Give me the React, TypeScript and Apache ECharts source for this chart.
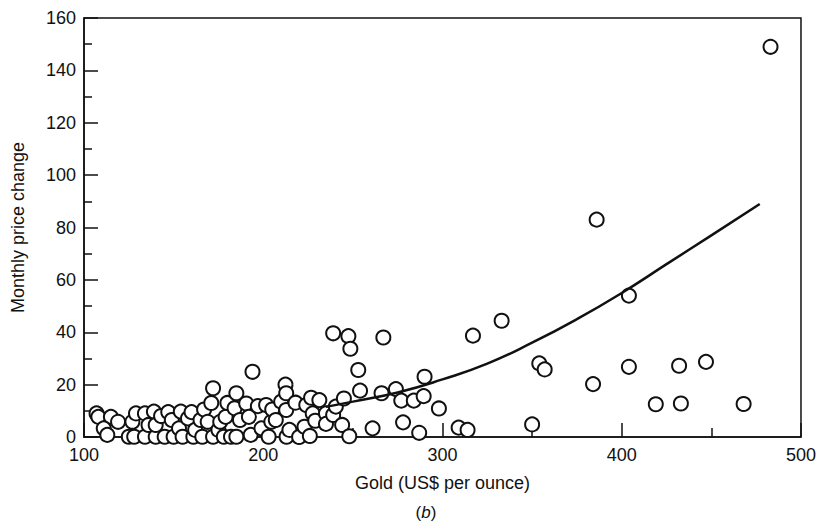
import React, { useEffect, useRef } from "react";
import * as echarts from "echarts";

// Scatter observations: gold price (US$/oz) vs monthly price change
const goldPrice: number[] = [
  107, 108, 115, 119, 111, 113, 125, 127, 128, 129, 134, 134, 136, 139, 140, 140, 143, 145, 147, 149, 150,
  153, 154, 155, 158, 160, 161, 162, 165, 166, 167, 169, 171, 172, 172, 175, 176, 178, 179, 180, 182,
  184, 185, 185, 187, 190.5, 192, 193, 194, 197, 199, 201.6, 203, 204.5, 205, 207, 210, 212.4, 212.8, 212.8,
  213, 214.6, 218, 220, 223, 224, 226, 226.7, 227.6, 229, 231.3, 235, 235, 239, 240.5, 244, 245, 248,
  239, 247.5, 248.6,
  253, 254, 261, 266, 267, 274, 277, 278, 284, 287, 289.5, 290, 298, 309, 314, 317, 333, 350, 354, 357,
  384, 386, 404, 404, 419, 432, 433, 447, 468, 483,
];
const priceChange: number[] = [
  9, 7.7, 7.7, 5.8, 3.3, 0.8, 0.1, 5.8, 0.1, 9, 9, 0.1, 4.6, 9.7, 0.1, 4.6, 8, 0.1, 9.5, 6.5, 0.1,
  3.3, 9.7, 0.1, 7.1, 9.5, 0.1, 2.7, 6.5, 0.1, 10.5, 5.8, 13, 18.6, 0.1, 2.7, 5.8, 0.1, 7.7, 13, 0.1,
  11, 16.7, 0.1, 6.5, 12.8, 7.7, 0.8, 24.9, 11.8, 3.3, 12.2, 0.1, 5.8, 10.5, 6.5, 13.5, 20, 16.7, 10.3,
  0.1, 2.7, 13.1, 0, 3.9, 12.2, 0.4, 15, 9, 6.2, 14.1, 9, 5, 8.4, 11.6, 4.6, 14.7, 0.3,
  39.6, 38.5, 33.7,
  25.6, 17.7, 3.3, 16.7, 38, 18.3, 13.9, 5.6, 13.9, 1.6, 15.6, 23, 10.9, 3.6, 2.7, 38.7, 44.4, 4.8, 28.1, 25.8,
  20.2, 83, 54, 26.8, 12.5, 27.2, 12.8, 28.7, 12.6, 149,
];

// Fitted curve
const curveX: number[] = [235, 250, 275, 300, 325, 350, 375, 400, 425, 450, 477];
const curveY: number[] = [11.5, 13.5, 17, 22, 28, 36, 45, 55, 66, 77, 89];

const xTicks = { min: 100, max: 500, interval: 100 };
const yTicks = { min: 0, max: 160, interval: 20 };

const FONT = "Liberation Sans, Arial, Helvetica, sans-serif";

export default function App() {
  const ref = useRef<HTMLDivElement>(null);
  useEffect(() => {
    document.body.style.margin = "0";
    if (!ref.current) return;
    const chart = echarts.init(ref.current, undefined, { renderer: "svg" });
    const scatterData = goldPrice.map((x, i) => [x, priceChange[i]]);
    const curveData = curveX.map((x, i) => [x, curveY[i]]);
    chart.setOption({
      animation: false,
      backgroundColor: "#ffffff",
      grid: {
        left: 84,
        right: 16,
        top: 18,
        bottom: 88,
        show: true,
        borderColor: "#111",
        borderWidth: 1.5,
        backgroundColor: "transparent",
      },
      xAxis: {
        type: "value",
        min: xTicks.min,
        max: xTicks.max,
        interval: xTicks.interval,
        name: "Gold (US$ per ounce)",
        nameLocation: "middle",
        nameGap: 37,
        nameTextStyle: { color: "#111", fontSize: 18, fontFamily: FONT },
        axisLine: { show: true, onZero: false, lineStyle: { color: "#111", width: 1.5 } },
        axisTick: { show: true, inside: true, length: 14, lineStyle: { color: "#111", width: 1.5 } },
        minorTick: { show: true, splitNumber: 2, length: 9, lineStyle: { color: "#111", width: 1.5 } },
        axisLabel: { color: "#111", fontSize: 18, fontFamily: FONT, margin: 9 },
        splitLine: { show: false },
      },
      yAxis: {
        type: "value",
        min: yTicks.min,
        max: yTicks.max,
        interval: yTicks.interval,
        name: "Monthly price change",
        nameLocation: "middle",
        nameGap: 57,
        nameRotate: 90,
        nameTextStyle: { color: "#111", fontSize: 18, fontFamily: FONT },
        axisLine: { show: true, onZero: false, lineStyle: { color: "#111", width: 1.5 } },
        axisTick: { show: true, inside: true, length: 14, lineStyle: { color: "#111", width: 1.5 } },
        minorTick: { show: true, splitNumber: 2, length: 8, lineStyle: { color: "#111", width: 1.5 } },
        axisLabel: { color: "#111", fontSize: 18, fontFamily: FONT, margin: 8 },
        splitLine: { show: false },
      },
      graphic: [
        {
          type: "text",
          x: 426,
          y: 512,
          style: {
            text: "({i|b})",
            align: "center",
            verticalAlign: "middle",
            fontSize: 17,
            fontFamily: FONT,
            fill: "#111",
            rich: { i: { fontStyle: "italic", fontSize: 17, fontFamily: FONT, fill: "#111" } },
          },
        },
      ],
      series: [
        {
          type: "scatter",
          data: scatterData,
          symbol: "circle",
          symbolSize: 14,
          itemStyle: { color: "#ffffff", borderColor: "#111", borderWidth: 2, opacity: 1 },
          z: 2,
        },
        {
          type: "line",
          data: curveData,
          smooth: true,
          showSymbol: false,
          symbol: "none",
          lineStyle: { color: "#111", width: 2.5 },
          z: 3,
        },
      ],
    });
    return () => chart.dispose();
  }, []);
  return <div ref={ref} style={{ width: 819, height: 525 }} />;
}
